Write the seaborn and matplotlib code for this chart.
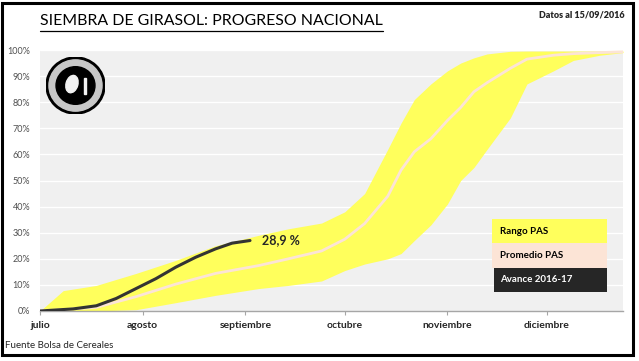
import numpy as np
import pandas as pd
import matplotlib.pyplot as plt
import seaborn as sns
from matplotlib.patches import Rectangle, Circle, Ellipse
from matplotlib.lines import Line2D

# days since 1 July
band_days = [0, 7, 17, 29, 41, 53, 66, 75, 85, 92, 98, 105, 109, 113, 118, 123,
             127, 131, 135, 142, 147, 155, 161, 169, 176]
rango_max = [0, 7.8, 9.8, 14.4, 19.4, 25, 29, 31.5, 33.7, 38, 45, 62, 72, 81, 87,
             92, 95, 97, 98.5, 99.5, 99.6, 99.6, 99.6, 99.6, 99.6]
promedio = [0, 0.5, 1.4, 5.5, 10.3, 14.4, 17.4, 20, 23, 27.5, 33.5, 44, 54, 61,
            66, 73, 78, 84, 87.5, 93, 96.5, 98, 98.6, 99, 99.3]
rango_min = [0, 0, 0, 0.5, 3.2, 6, 8.6, 9.8, 11.5, 15.5, 18, 20, 22, 27, 33, 41,
             50, 55, 62, 74, 87, 92, 96, 98, 99]

avance_days = [0, 10, 17, 23, 29, 35, 41, 47, 53, 58, 63.4]
avance = [0, 0.8, 2, 4.8, 8.6, 12.4, 16.8, 20.6, 23.8, 26, 27]

month_days = [0, 31, 62, 92, 123, 153]
month_labels = ['julio', 'agosto', 'septiembre', 'octubre', 'noviembre', 'diciembre']
ytick_vals = list(range(0, 101, 10))

YELLOW = '#FFFF5C'
PEACH = '#FCE4D6'
DARK = '#262626'

sns.set_style('white', {'axes.facecolor': '#F0F0F0'})
plt.rcParams['font.family'] = ['Lato', 'DejaVu Sans']

df_band = pd.DataFrame({'dia': band_days, 'max': rango_max, 'prom': promedio, 'min': rango_min})
df_av = pd.DataFrame({'dia': avance_days, 'avance': avance})

fig = plt.figure(figsize=(6.39, 3.61), dpi=100)
W, H = 639, 361
ax = fig.add_axes([40 / W, 1 - 311 / H, (623 - 40) / W, (311 - 50) / H])

for v in ytick_vals[1:]:
    ax.axhline(v, color='white', lw=1, zorder=0.5)

ax.fill_between(df_band['dia'], df_band['min'], df_band['max'], color=YELLOW, lw=0, zorder=1)
sns.lineplot(data=df_band, x='dia', y='prom', color=PEACH, lw=2, ax=ax, zorder=2)
sns.lineplot(data=df_av, x='dia', y='avance', color='#333333', lw=2.2, ax=ax, zorder=3,
             solid_capstyle='round')

ax.text(63.4 + 3.6, 27.3, '28,9 %', fontsize=9, fontweight='bold', va='center', ha='left')

ax.set_xlim(0, 176)
ax.set_ylim(0, 100)
ax.set_xticks(month_days)
ax.set_xticklabels(month_labels, fontsize=7.5, fontweight='bold')
ax.set_yticks(ytick_vals)
ax.set_yticklabels([f'{v}%' for v in ytick_vals], fontsize=6.5, color='#505050')
ax.tick_params(axis='x', length=3, color='#A6A6A6', direction='out', pad=4, bottom=True)
ax.tick_params(axis='y', length=0, pad=7)
ax.set_xlabel('')
ax.set_ylabel('')
for s in ['top', 'right', 'left']:
    ax.spines[s].set_visible(False)
ax.spines['bottom'].set_color('#A6A6A6')
ax.spines['bottom'].set_linewidth(1)

# legend boxes
def px(x, y):
    return x / W, 1 - y / H

legend = [('Rango PAS', YELLOW, 'black', 492, 219, 243),
          ('Promedio PAS', PEACH, 'black', 492, 243, 268),
          ('Avance 2016-17', DARK, 'white', 494, 268, 292)]
for label, fc, tc, x0, y0, y1 in legend:
    fx, fy = px(x0, y1)
    fig.add_artist(Rectangle((fx, fy), (607 - x0) / W, (y1 - y0) / H, facecolor=fc,
                             edgecolor='none', transform=fig.transFigure, zorder=5))
    tx, ty = px(500, (y0 + y1) / 2)
    fig.text(tx, ty, label, fontsize=7, fontweight='bold', color=tc, va='center', ha='left', zorder=6)

# title with underline
title = fig.text(40 / W, 1 - 21 / H, 'SIEMBRA DE GIRASOL: PROGRESO NACIONAL', fontsize=11.4,
                 ha='left', va='center', color='black')
fig.canvas.draw()
bb = title.get_window_extent()
fig.add_artist(Line2D([bb.x0 / W, bb.x1 / W], [1 - 31 / H, 1 - 31 / H], color='black', lw=0.9,
                      transform=fig.transFigure))

fig.text(625 / W, 1 - 15 / H, 'Datos al 15/09/2016', fontsize=6.5, fontweight='heavy',
         ha='right', va='center')
fig.text(5 / W, 1 - 345 / H, 'Fuente Bolsa de Cereales', fontsize=7, ha='left', va='center')

# seal
lax = fig.add_axes([46 / W, 1 - 114 / H, 59 / W, 57 / H])
lax.set_xlim(-1, 1)
lax.set_ylim(-1, 1)
lax.axis('off')
lax.add_patch(Circle((0, 0), 1.0, color='black'))
lax.add_patch(Circle((0, 0), 0.9, color='#C8C8C8'))
lax.add_patch(Circle((0, 0), 0.66, color='black'))
lax.add_patch(Ellipse((-0.12, 0.05), 0.4, 0.62, angle=-15, color='#F2F2F2'))
lax.add_patch(Rectangle((0.28, -0.3), 0.06, 0.55, color='#F2F2F2'))

# outer frame
fig.add_artist(Rectangle((1.5 / W, 1 - 355 / H), 631 / W, 352 / H, fill=False, edgecolor='black',
                         lw=2.2, transform=fig.transFigure, zorder=10))

fig.savefig('out.png', dpi=100)
